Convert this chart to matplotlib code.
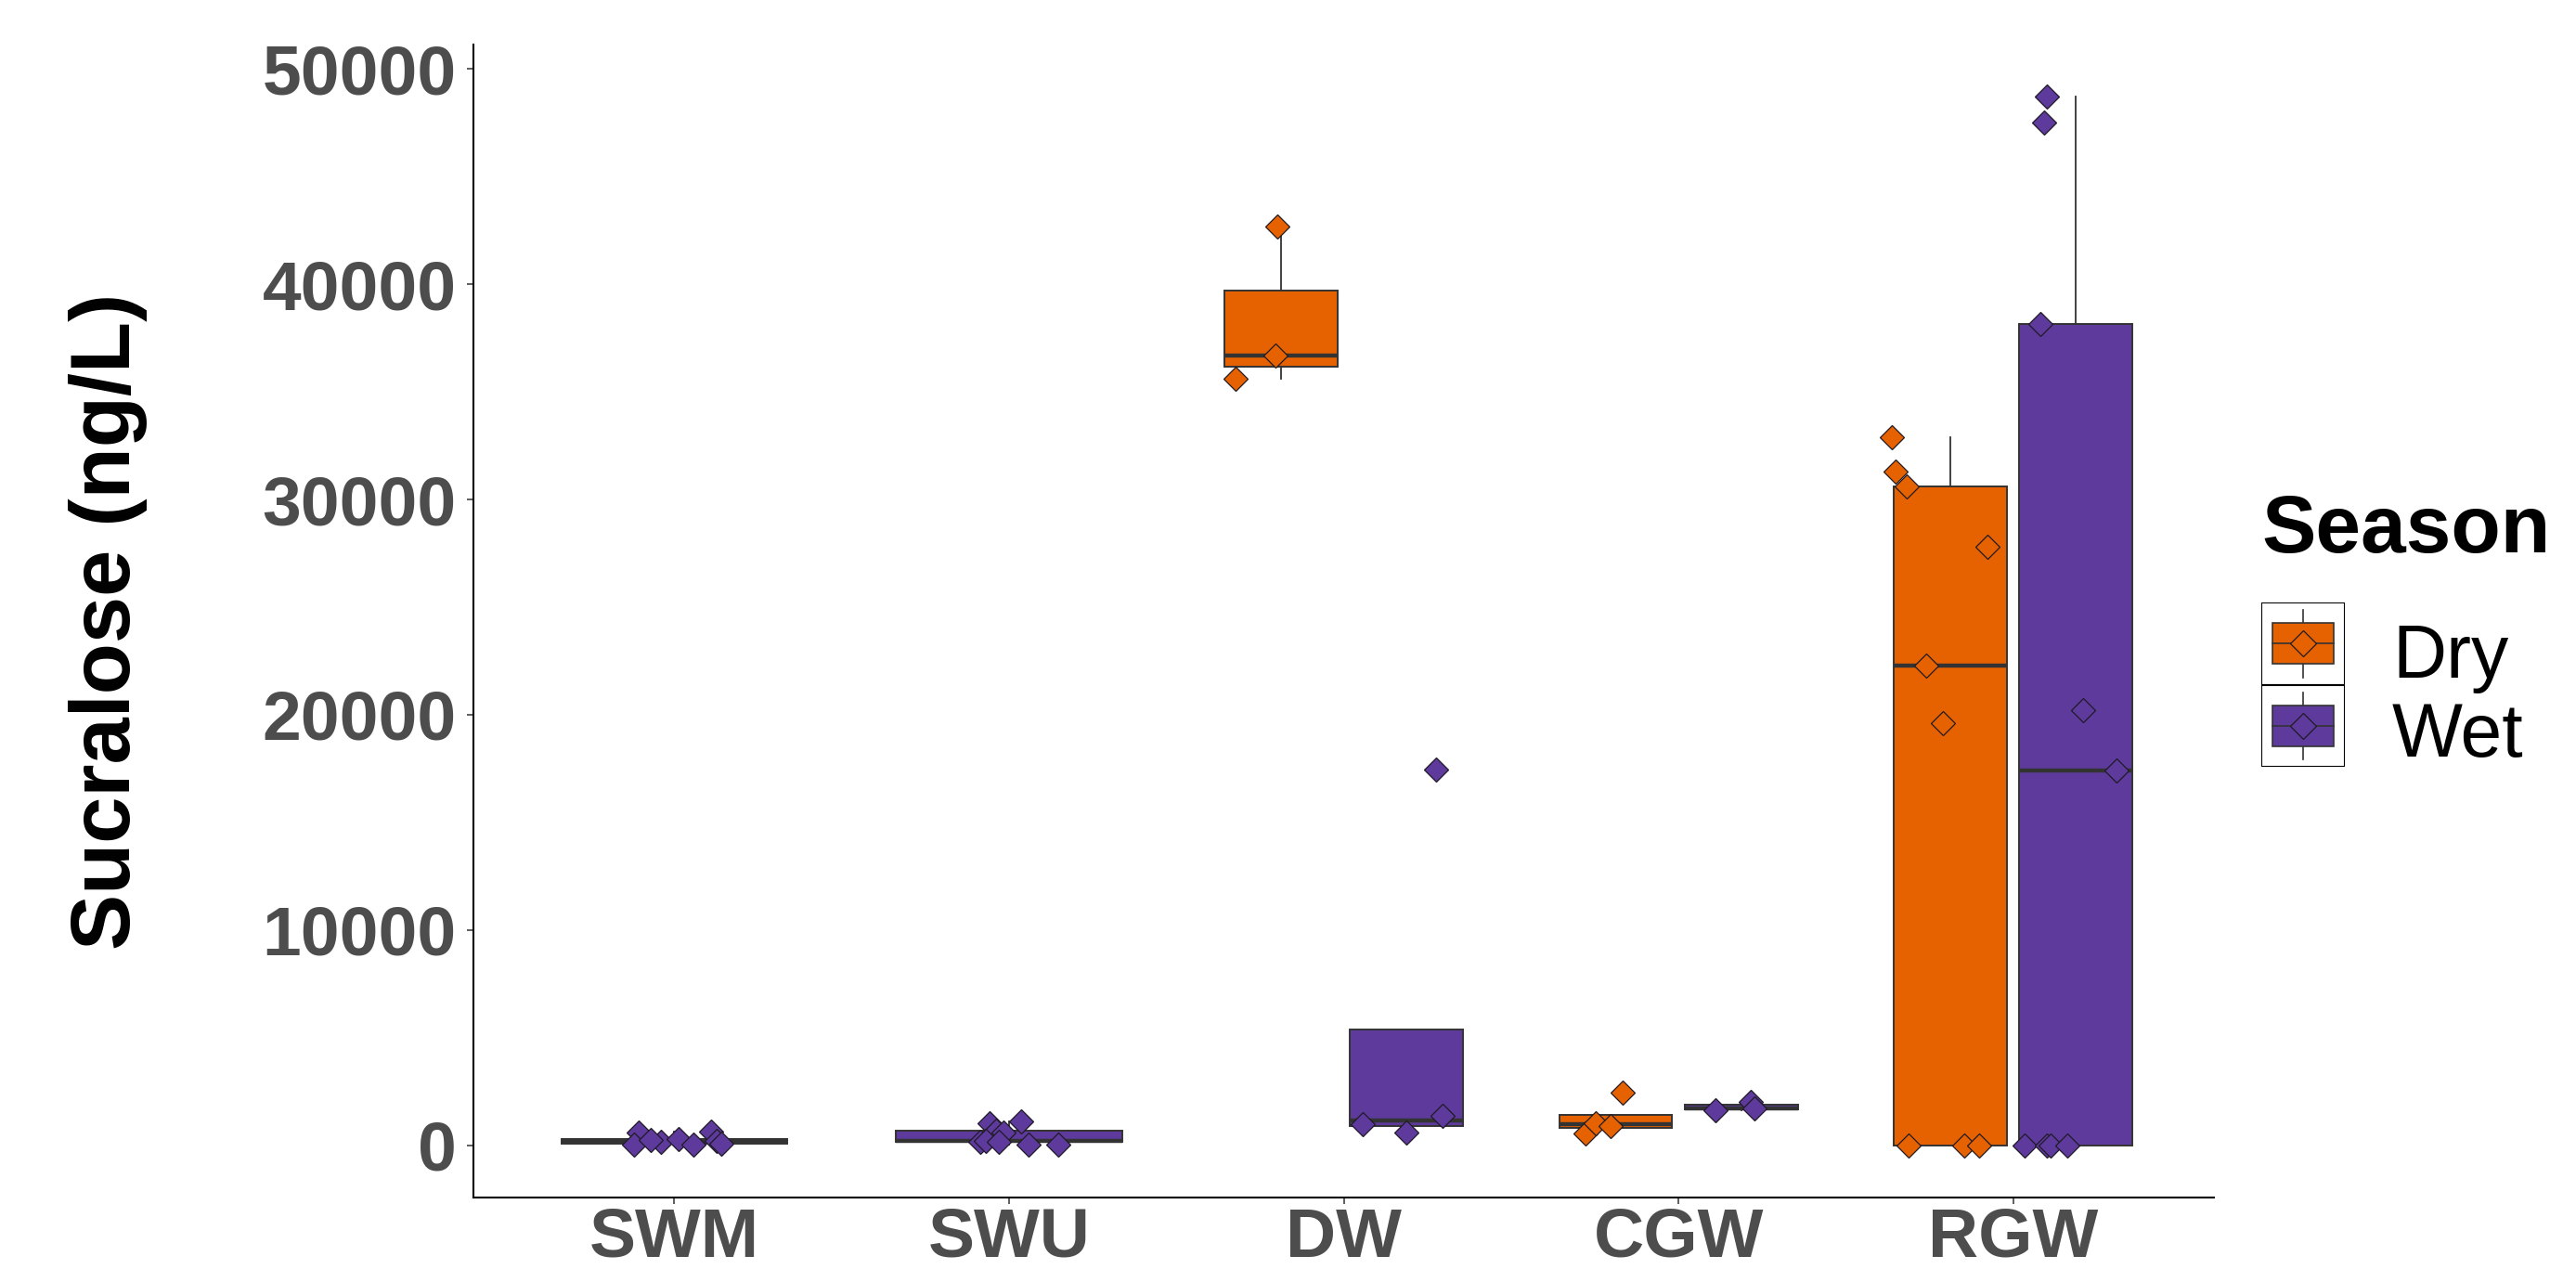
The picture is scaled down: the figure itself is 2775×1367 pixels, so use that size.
import matplotlib
matplotlib.use("Agg")
import matplotlib.pyplot as plt
from matplotlib.patches import Rectangle
from matplotlib.lines import Line2D

plt.rcParams["font.family"] = ["Liberation Sans", "DejaVu Sans"]

# ---- data -------------------------------------------------------------
categories = ["SWM", "SWU", "DW", "CGW", "RGW"]
seasons = ["Dry", "Wet"]

# Sucralose concentrations (ng/L) per site type and season
dry_values = {
    "DW": [35600, 36700, 42700],
    "CGW": [560, 1035, 905, 2460],
    "RGW": [32900, 31300, 30600, 27800, 22300, 19600, 0, 0, 0],
}
wet_values = {
    "SWM": [600, 30, 160, 300, 10, 620, 180, 50, 250],
    "SWU": [170, 1035, 690, 600, 1120, 20, 40, 200, 150],
    "DW": [990, 600, 1340, 17430],
    "CGW": [1640, 2000, 1725],
    "RGW": [48700, 47500, 38150, 20200, 17400, 0, 0, 0, 0],
}

# horizontal jitter of each sample (category units, relative to its box centre)
dry_jitter = {
    "DW": [-0.135, -0.017, -0.011],
    "CGW": [-0.09, -0.06, -0.014, 0.022],
    "RGW": [-0.174, -0.163, -0.13, 0.11, -0.072, -0.022, -0.124, 0.041, 0.086],
}
wet_jitter = {
    "SWM": [-0.105, -0.12, -0.04, 0.014, 0.058, 0.11, 0.127, 0.14, -0.07],
    "SWU": [-0.085, -0.058, -0.04, -0.017, 0.036, 0.058, 0.146, -0.07, -0.03],
    "DW": [-0.13, 0.0, 0.108, 0.088],
    "CGW": [-0.077, 0.028, 0.039],
    "RGW": [-0.088, -0.094, -0.105, 0.022, 0.12, -0.152, -0.088, -0.075, -0.025],
}

y_ticks = [0, 10000, 20000, 30000, 40000, 50000]

# ---- style ------------------------------------------------------------
colors = {"Dry": "#E66100", "Wet": "#5D3A9B"}
line_col = "#333333"
point_edge = "#1f1a24"
dodge = 0.1875
pair_width = 0.3375
single_width = 0.675

W, H = 2775, 1367
fig = plt.figure(figsize=(W / 100, H / 100), dpi=100)
ax = fig.add_axes([510 / W, 1 - 1290 / H, (2385 - 510) / W, (1290 - 48) / H])

all_vals = [v for d in (dry_values, wet_values) for vals in d.values() for v in vals]
lo, hi = min(all_vals), max(all_vals)
pad = 0.05 * (hi - lo)
ax.set_xlim(0.4, len(categories) + 0.6)
ax.set_ylim(lo - pad, hi + pad)

for i, cat in enumerate(categories, start=1):
    groups = [(s, d[cat], j[cat]) for s, d, j in
              (("Dry", dry_values, dry_jitter), ("Wet", wet_values, wet_jitter))
              if cat in d]
    both = len(groups) == 2
    for season, vals, jit in groups:
        if both:
            pos = i - dodge if season == "Dry" else i + dodge
            width = pair_width
        else:
            pos, width = i, single_width
        c = colors[season]
        ax.boxplot(
            [vals], positions=[pos], widths=[width], patch_artist=True,
            showfliers=False, showcaps=False, whis=1.5, manage_ticks=False,
            boxprops=dict(facecolor=c, edgecolor=line_col, linewidth=1.4),
            medianprops=dict(color=line_col, linewidth=3.2),
            whiskerprops=dict(color=line_col, linewidth=1.3),
            zorder=2,
        )
        ax.plot([pos + dx for dx in jit], vals, linestyle="none", marker="D",
                ms=13.5, mfc=c, mec=point_edge, mew=0.9, zorder=3)

# axes styling
for side in ("top", "right"):
    ax.spines[side].set_visible(False)
for side in ("left", "bottom"):
    ax.spines[side].set_linewidth(1.5)
    ax.spines[side].set_color("black")

ax.set_xticks(range(1, len(categories) + 1))
ax.set_xticklabels(categories, fontsize=54, fontweight="bold", color="#4D4D4D")
ax.set_yticks(y_ticks)
ax.set_yticklabels([str(t) for t in y_ticks], fontsize=54, fontweight="bold",
                   color="#4D4D4D")
ax.tick_params(axis="both", length=5, width=1.1, color=line_col)
ax.tick_params(axis="y", pad=8)
ax.tick_params(axis="x", pad=2)

fig.text(117 / W, 1 - 669 / H, "Sucralose (ng/L)", rotation=90, fontsize=65,
         fontweight="bold", ha="center", va="center", color="black")

# ---- legend -----------------------------------------------------------
fig.text(2436 / W, 1 - 595 / H, "Season", fontsize=63, fontweight="bold",
         ha="left", va="baseline", color="black")

lax = fig.add_axes([2436 / W, 1 - 826 / H, 90 / W, 177 / H])
lax.set_xlim(0, 90)
lax.set_ylim(177, 0)
lax.axis("off")
key_h = 88.5
for k, season in enumerate(seasons):
    top = k * key_h
    c = colors[season]
    lax.add_patch(Rectangle((0, top), 90, key_h, facecolor="white",
                            edgecolor="black", linewidth=1.5, zorder=1))
    mid = top + key_h / 2
    lax.add_line(Line2D([45, 45], [top + 8, top + key_h - 8], color=line_col,
                        linewidth=1.2, zorder=2))
    lax.add_patch(Rectangle((12, mid - 22), 66, 44, facecolor=c,
                            edgecolor=line_col, linewidth=1.2, zorder=3))
    lax.add_line(Line2D([12, 78], [mid, mid], color=line_col, linewidth=1.2,
                        zorder=4))
    lax.plot([45], [mid], linestyle="none", marker="D", ms=14, mfc=c,
             mec=point_edge, mew=0.9, zorder=5)
    fig.text(2577 / W, 1 - (730 + k * 85) / H, season, fontsize=58,
             ha="left", va="baseline", color="black")

fig.savefig("out.png", dpi=100, facecolor="white")
